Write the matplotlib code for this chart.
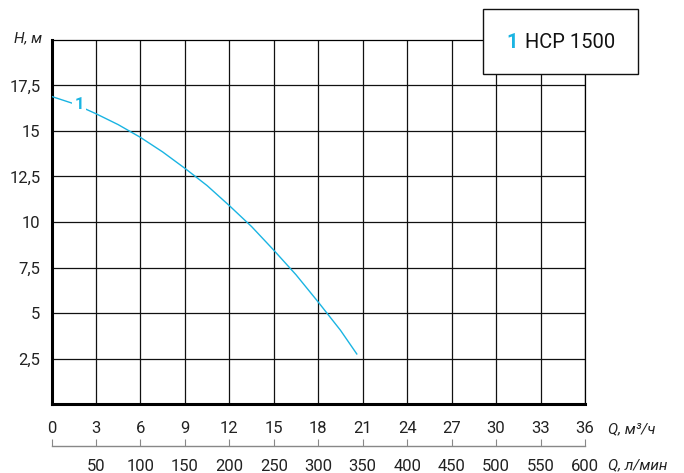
#!/usr/bin/env python3
"""Pump curve chart: H (m) vs Q for HCP 1500."""

import matplotlib
matplotlib.use("Agg")
import matplotlib.pyplot as plt
from matplotlib.patches import Rectangle

# data
q_m3h = [0, 1.5, 3, 4.5, 6, 7.5, 9, 10.5, 12, 13.5, 15, 16.5, 18, 19.5, 20.6]
h_m = [16.9, 16.5, 15.95, 15.35, 14.65, 13.85, 12.95, 12.0, 10.9, 9.75, 8.45,
       7.1, 5.6, 4.05, 2.75]

q_ticks = [0, 3, 6, 9, 12, 15, 18, 21, 24, 27, 30, 33, 36]
lmin_labels = ["", "50", "100", "150", "200", "250", "300", "350", "400",
               "450", "500", "550", "600"]
h_ticks = [2.5, 5, 7.5, 10, 12.5, 15, 17.5]
h_labels = ["2,5", "5", "7,5", "10", "12,5", "15", "17,5"]

model_name = "HCP 1500"
curve_id = "1"

CYAN = "#1ab4e2"
plt.rcParams["font.family"] = ["Roboto", "DejaVu Sans"]

W, H = 684, 473
fig = plt.figure(figsize=(W / 100, H / 100), dpi=100)

# main axes
ax = fig.add_axes([51.5 / W, (H - 404) / H, (585 - 51.5) / W, (404 - 40) / H])
ax.set_xlim(0, 36)
ax.set_ylim(0, 20)
ax.set_xticks(q_ticks)
ax.set_xticklabels([str(q) for q in q_ticks])
ax.set_yticks(h_ticks)
ax.set_yticklabels(h_labels)
ax.tick_params(axis="both", length=0, labelsize=12, colors="#222222")
ax.tick_params(axis="x", pad=12)
ax.tick_params(axis="y", pad=8)
ax.grid(True, color="#111111", linewidth=0.9)
ax.set_axisbelow(True)
for side in ("left", "bottom"):
    ax.spines[side].set_linewidth(2.2)
for side in ("top", "right"):
    ax.spines[side].set_linewidth(0.9)

ax.plot(q_m3h, h_m, color=CYAN, linewidth=1.0, zorder=3)
ax.text(1.86, 16.45, curve_id, color=CYAN, fontsize=12, fontweight="bold",
        ha="center", va="center", zorder=4,
        bbox=dict(facecolor="white", edgecolor="none", pad=1.5))

# secondary scale in l/min
ax2 = fig.add_axes([51.5 / W, (H - 446) / H, (585 - 51.5) / W, 0.0001])
ax2.set_xlim(0, 36)
ax2.set_ylim(0, 1)
ax2.set_yticks([])
ax2.set_xticks(q_ticks)
ax2.set_xticklabels(lmin_labels)
ax2.tick_params(axis="x", direction="in", length=5, width=0.8, color="#888888",
                labelsize=12, labelcolor="#222222", pad=9)
for side in ("left", "right", "top"):
    ax2.spines[side].set_visible(False)
ax2.spines["bottom"].set_color("#888888")
ax2.spines["bottom"].set_linewidth(1.0)
ax2.patch.set_visible(False)

# axis titles
fig.text(14 / W, 1 - 38 / H, "H, м", fontsize=11, style="italic", va="center", color="#222222")
fig.text(608 / W, 1 - 429 / H, "Q, м³/ч", fontsize=11, style="italic", va="center", color="#222222")
fig.text(608 / W, 1 - 465 / H, "Q, л/мин", fontsize=11, style="italic", va="center", color="#222222")

# legend box
fig.patches.append(Rectangle((483 / W, (H - 74) / H), 155 / W, 64.5 / H,
                             transform=fig.transFigure, facecolor="white",
                             edgecolor="#111111", linewidth=1.0, zorder=5))
fig.text(512 / W, 1 - 43 / H, curve_id, color=CYAN, fontsize=14.5,
         fontweight="bold", ha="center", va="center", zorder=6)
fig.text(525 / W, 1 - 43 / H, model_name, color="#111111", fontsize=14.5,
         ha="left", va="center", zorder=6)

fig.savefig("out.png", dpi=100)
